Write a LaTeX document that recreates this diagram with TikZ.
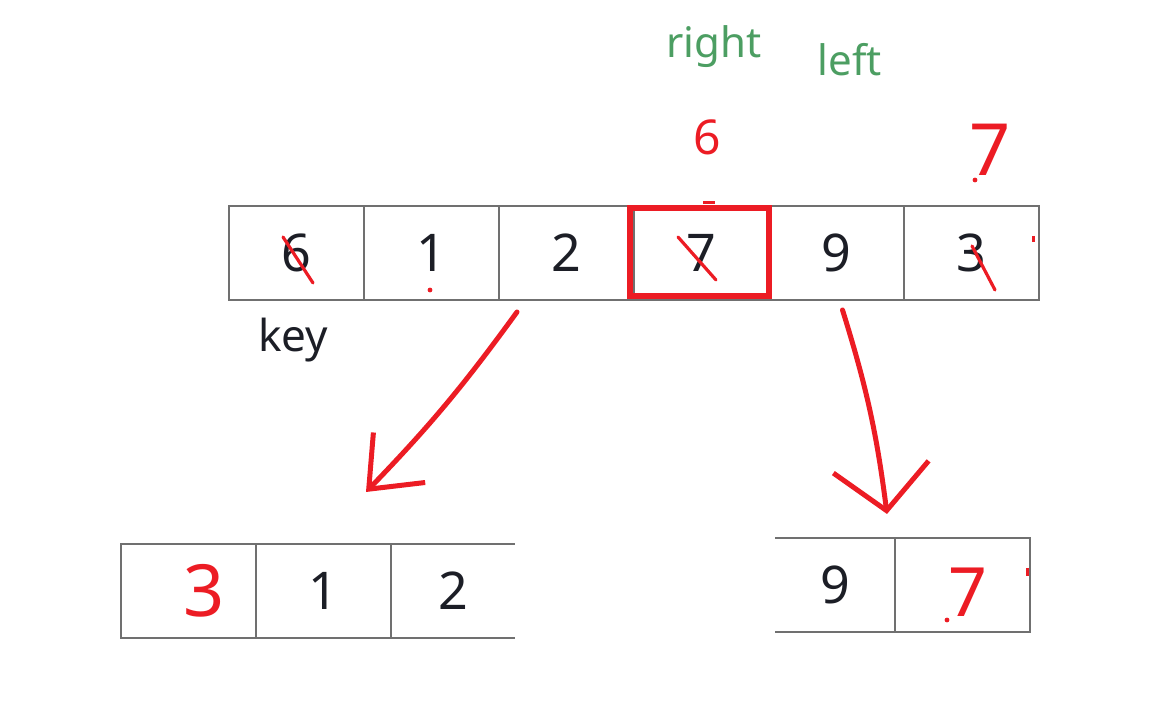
\documentclass[tikz,border=0pt]{standalone}
\usepackage{fontspec}
\setmainfont{Noto Sans}
\usetikzlibrary{positioning,arrows.meta}
\definecolor{pen}{RGB}{236,28,36}
\definecolor{gridgray}{RGB}{112,112,112}
\definecolor{ink}{RGB}{28,30,38}
\definecolor{notegreen}{RGB}{76,158,98}
\tikzset{
  cell/.style={draw=gridgray, line width=1pt, minimum width=67.5pt, minimum height=47pt, inner sep=0pt, outer sep=0pt, text=ink, font=\fontsize{26}{30}\selectfont},
  opencell/.style={cell, draw=none},
  rim/.style={gridgray, line width=1pt},
  hand/.style={text=pen, inner sep=0pt, font=\fontsize{34}{40}\selectfont},
  strike/.style={pen, line width=1.6pt, line cap=round},
  pl/.style={pen, line width=2.5pt, line cap=round, line join=round},
  note/.style={text=notegreen, font=\fontsize{21}{25}\selectfont},
}

\begin{document}
\begin{tikzpicture}[x=0.5pt, y=0.5pt]
\useasboundingbox (0,0) rectangle (1157,726);
\node[cell] (a1) at (296.5,473) {6};
\node[cell, right=0pt of a1] (a2) {1};
\node[cell, right=0pt of a2] (a3) {2};
\node[cell, right=0pt of a3] (a4) {7};
\node[cell, right=0pt of a4] (a5) {9};
\node[cell, right=0pt of a5] (a6) {3};
\draw[pen, line width=3pt] ([xshift=-2pt,yshift=2pt]a4.south west) rectangle ([yshift=-1pt]a4.north east);
\draw[strike] ([shift={(-13.5,16)}]a1.center) -- ([shift={(16.5,-30)}]a1.center);
\draw[strike] ([shift={(-23.5,16)}]a4.center) -- ([shift={(14.5,-27)}]a4.center);
\draw[strike] ([shift={(0.5,7)}]a6.center) -- ([shift={(23.5,-37)}]a6.center);
\node[font=\fontsize{22}{26}\selectfont, text=ink] (key) at (293,386) {key};
\node[note] (rgt) at (714,679) {right};
\node[note] (lft) at (850,666) {left};
\node[hand, font=\fontsize{24}{28}\selectfont] (six) at (707,589) {6};
\node[hand, font=\fontsize{36}{40}\selectfont] (seven) at (990,576) {7};
\node[cell] (b1) at (188.5,135) {};
\node[cell, right=0pt of b1] (b2) {1};
\node[opencell, minimum width=62pt, right=0pt of b2] (b3) {2};
\draw[rim] (b3.north west) -- (b3.north east) (b3.south west) -- (b3.south east);
\node[hand, font=\fontsize{36}{40}\selectfont] (three) at ([xshift=8pt]b1.center) {3};
\node[opencell, minimum width=60pt] (r1) at (835,141) {9};
\node[cell, right=0pt of r1] (r2) {};
\draw[rim] (r1.north west) -- (r1.north east) (r1.south west) -- (r1.south east);
\node[hand, font=\fontsize{34}{40}\selectfont] (sev2) at ([xshift=2.75pt,yshift=-3.5pt]r2.center) {7};
\coordinate (sL) at ([xshift=9pt,yshift=-6pt]a3.south west);
\coordinate (tL) at ([xshift=-12.5pt,yshift=26pt]b2.north east);
\draw[pl, -{Straight Barb[length=22pt,width=36pt]}] (sL) to[bend left=4] (tL);
\coordinate (sR) at ([xshift=3pt,yshift=-5pt]a5.south);
\coordinate (tR) at ([xshift=-4pt,yshift=12pt]r1.north east);
\draw[pl, -{Straight Barb[length=22pt,width=48pt]}] (sR) to[bend left=5] (tR);
\fill[pen] (430,436) circle (1.2pt) (975,546) circle (1.2pt) (947,106) circle (1.2pt);
\draw[pen, line width=1.5pt] (703,523) -- (715,523) (1027,158) -- (1027,150) (1033,490) -- (1033,484);
\end{tikzpicture}
\end{document}
